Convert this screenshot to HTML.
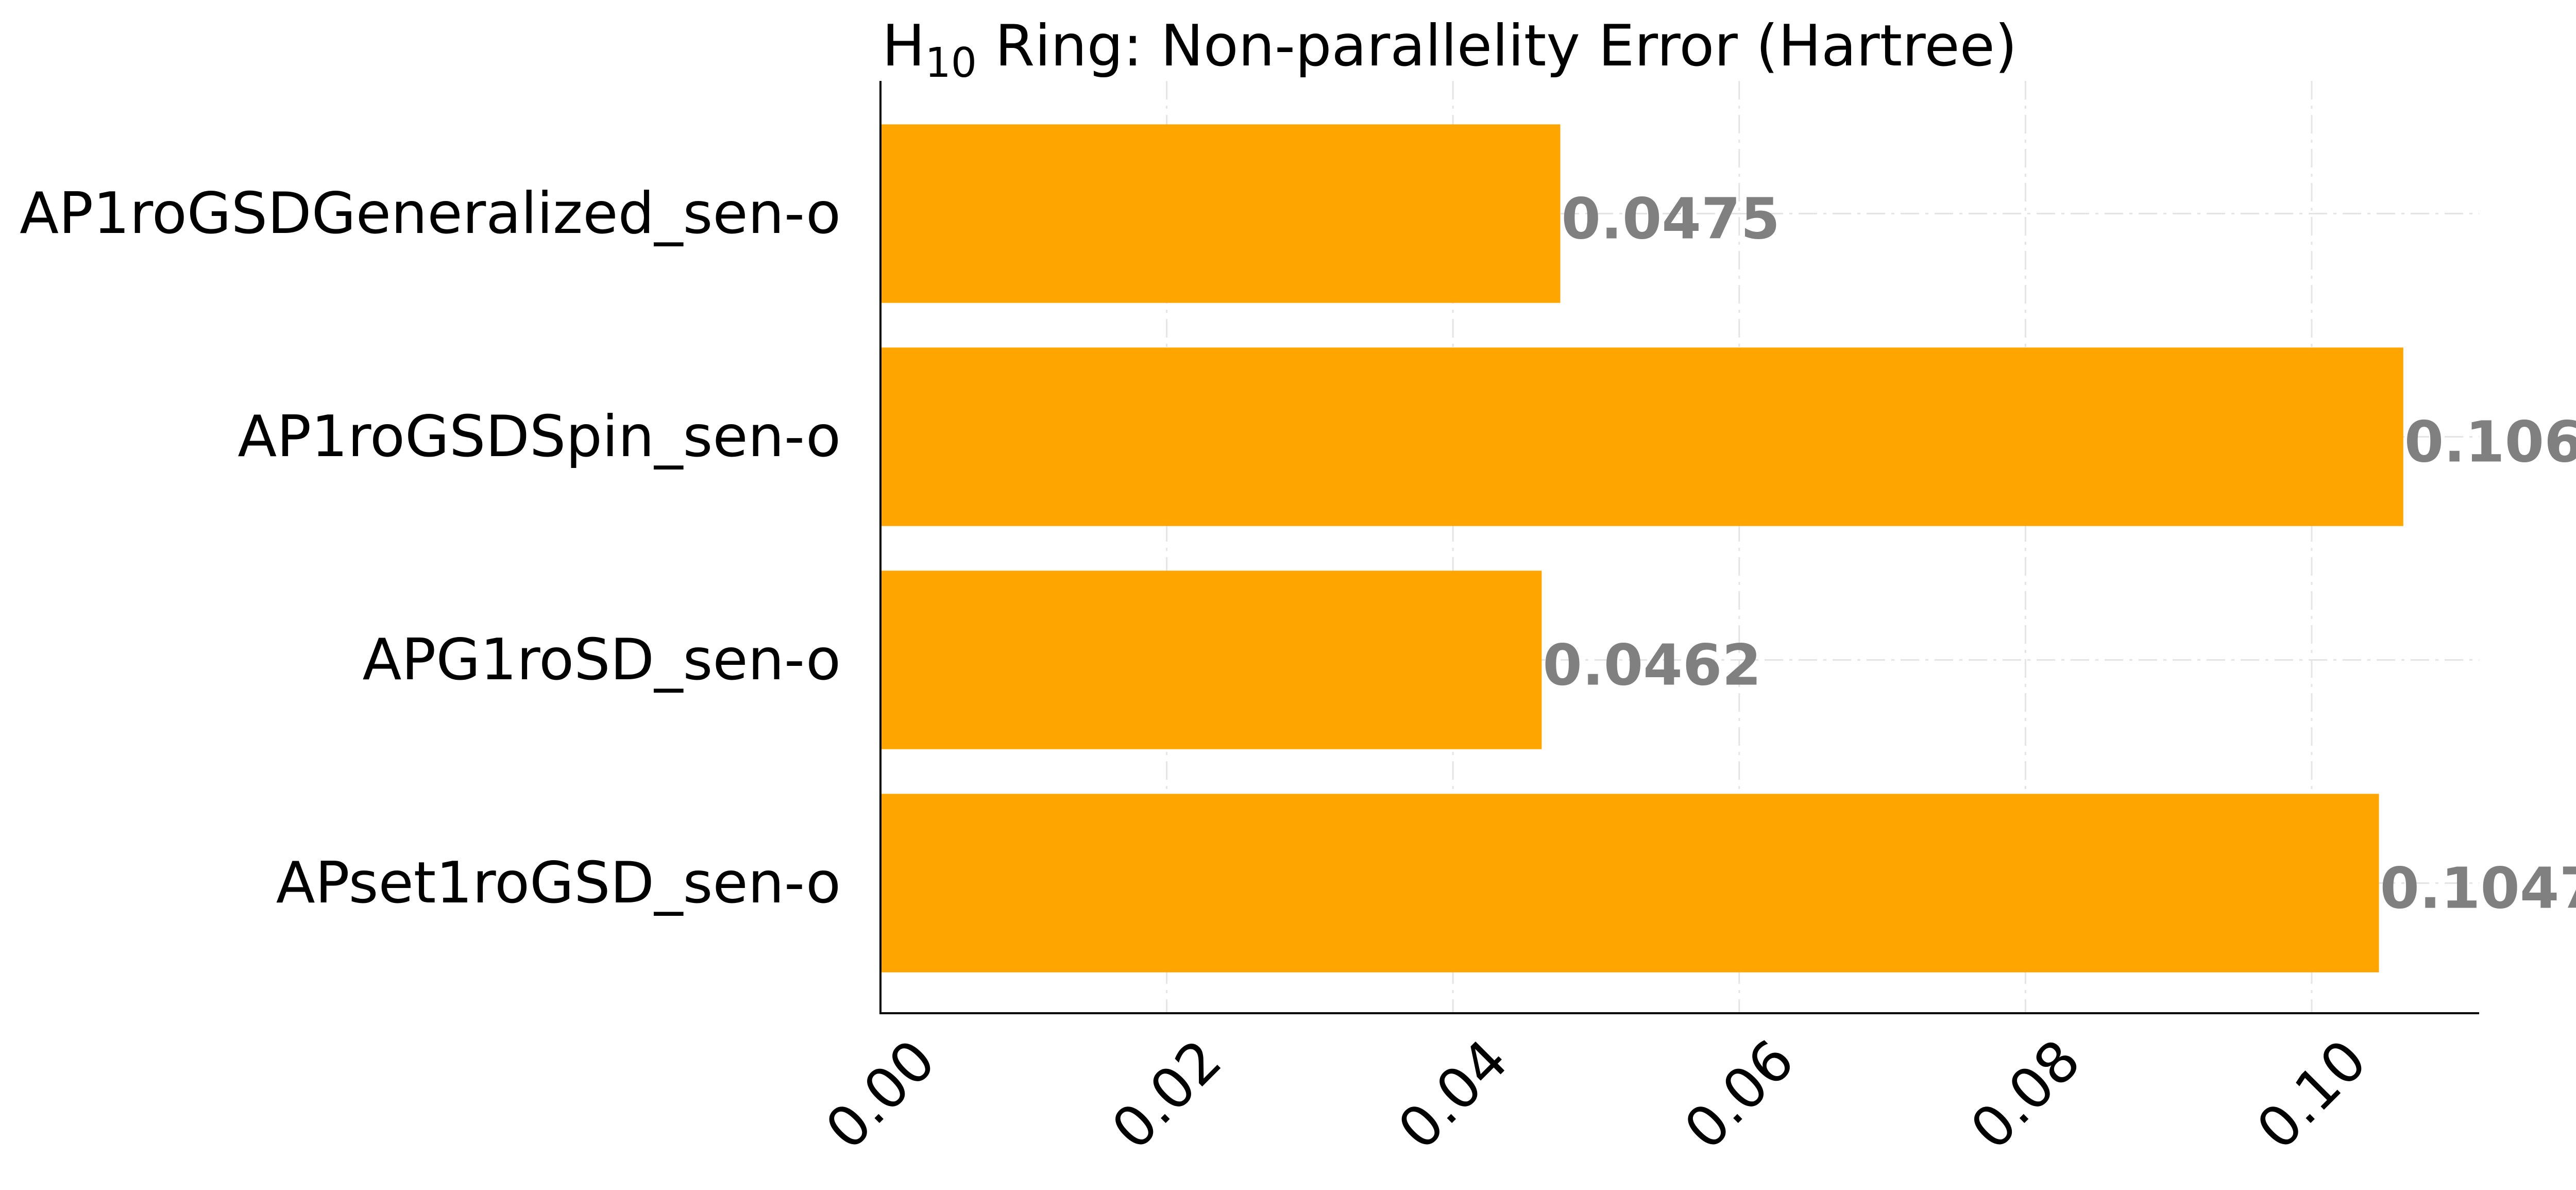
<!DOCTYPE html>
<html><head><meta charset="utf-8"><style>
html,body{margin:0;padding:0;background:#fff;}
svg{display:block;font-family:"DejaVu Sans","Liberation Sans",sans-serif;}
</style></head><body>
<svg id="chart" width="5131" height="2309" viewBox="0 0 5131 2309" xmlns="http://www.w3.org/2000/svg">
<text x="1712" y="127" font-size="111" fill="#000">H<tspan font-size="79" dy="22">10</tspan><tspan dy="-22"> Ring: Non-parallelity Error (Hartree)</tspan></text>
<g id="grid"></g><g id="bars"></g><g id="labels"></g><g id="axes"></g>
</svg>
<script>
const categories = ["AP1roGSDGeneralized_sen-o","AP1roGSDSpin_sen-o","APG1roSD_sen-o","APset1roGSD_sen-o"];
const values = [0.0475,0.1064,0.0462,0.1047];
const valueLabels = ["0.0475","0.1064","0.0462","0.1047"];
const xTicks = [0,0.02,0.04,0.06,0.08,0.10];
const xTickLabels = ["0.00","0.02","0.04","0.06","0.08","0.10"];
const NS="http://www.w3.org/2000/svg";
const L=1709,R=4812,T=157,B=1966,XMAX=0.1117;
const x=v=>L+(v/XMAX)*(R-L);
const step=433, y0=414.5;
const yc=i=>y0+i*step;
const bh=step*0.8;
function mk(t,a,p){const e=document.createElementNS(NS,t);for(const k in a)e.setAttribute(k,a[k]);p.appendChild(e);return e;}
const grid=document.getElementById('grid'),bars=document.getElementById('bars'),labels=document.getElementById('labels'),axes=document.getElementById('axes');
xTicks.forEach((t,i)=>{
  const g=mk('line',{x1:x(t),x2:x(t),y1:T,y2:B,stroke:'#e4e4e4','stroke-width':3,'stroke-dasharray':'36 12 6 12'},grid);
  
  
  const lb=mk('text',{x:x(t),y:2124,'font-size':109,'text-anchor':'middle','dominant-baseline':'central',transform:`rotate(-45 ${x(t)} 2124)`,fill:'#000'},labels);
  lb.textContent=xTickLabels[i];
  
  
});
categories.forEach((c,i)=>{
  const g=mk('line',{x1:L,x2:R,y1:yc(i),y2:yc(i),stroke:'#e4e4e4','stroke-width':3,'stroke-dasharray':'36 12 6 12'},grid);
  
  
  const r=mk('rect',{x:L,y:yc(i)-bh/2,width:x(values[i])-L,height:bh,fill:'#FFA500'},bars);
  
  
  const v=mk('text',{x:x(values[i])+2,y:yc(i)+10,'font-size':110,'font-weight':'bold',fill:'#808080','dominant-baseline':'central'},labels);
  v.textContent=valueLabels[i];
  
  
  const yl=mk('text',{x:1632,y:yc(i),'font-size':111,'text-anchor':'end','dominant-baseline':'central',fill:'#000'},labels);
  yl.textContent=c;
  
  
});
const ya=mk('line',{x1:L,x2:L,y1:T,y2:B,stroke:'#000','stroke-width':4},axes);


const xa=mk('line',{x1:L-2,x2:R,y1:B,y2:B,stroke:'#000','stroke-width':4},axes);


</script>
</body></html>
